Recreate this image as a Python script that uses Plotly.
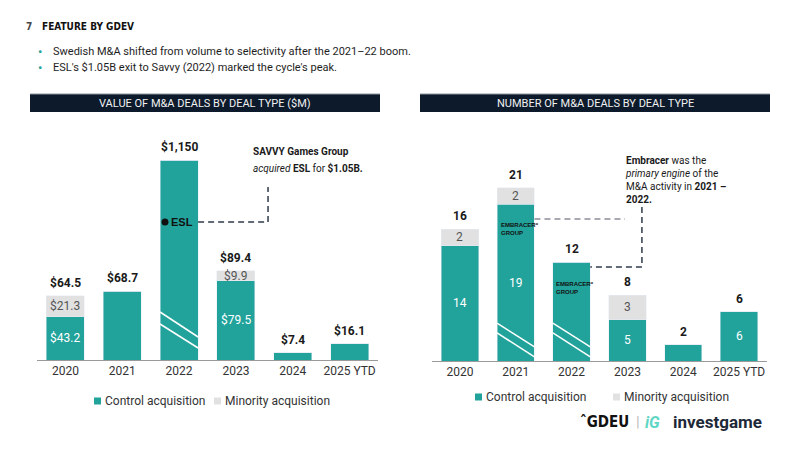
import plotly.graph_objects as go

# ---------------- data ----------------
years = ["2020", "2021", "2022", "2023", "2024", "2025 YTD"]

value_control = [43.2, 68.7, 1150.0, 79.5, 7.4, 16.1]
value_minority = [21.3, 0.0, 0.0, 9.9, 0.0, 0.0]
value_total = [64.5, 68.7, 1150.0, 89.4, 7.4, 16.1]
value_control_labels = ["$43.2", "", "", "$79.5", "", ""]
value_minority_labels = ["$21.3", "", "", "$9.9", "", ""]
value_total_labels = ["$64.5", "$68.7", "$1,150", "$89.4", "$7.4", "$16.1"]
VALUE_AXIS_BREAK = 200.0  # 2022 bar is drawn truncated (broken axis)

count_control = [14, 19, 12, 5, 2, 6]
count_minority = [2, 2, 0, 3, 0, 0]
count_total = [16, 21, 12, 8, 2, 6]
count_control_labels = ["14", "19", "", "5", "", "6"]
count_minority_labels = ["2", "2", "", "3", "", ""]

series_names = ["Control acquisition", "Minority acquisition"]
bullets = [
    "Swedish M&A shifted from volume to selectivity after the 2021\u201322 boom.",
    "ESL's $1.05B exit to Savvy (2022) marked the cycle's peak.",
]

# ---------------- style ----------------
TEAL = "#21a39b"
GREY = "#e1e1e1"
NAVY = "#0c1a2b"
TXT = "#333333"
FONT = "Roboto"
W, H = 800, 450
BARGAP = 0.33
HALF = (1 - BARGAP) / 2


def px(x):
    return x / W


def py(y):
    return 1 - y / H


def note(x, y, text, size=12, color="#1a1a1a", family=FONT, xanchor="left", **kw):
    d = dict(x=px(x), y=py(y), xref="paper", yref="paper", text=text, showarrow=False,
             xanchor=xanchor, yanchor=kw.pop("yanchor", "middle"),
             font=dict(family=family, size=size, color=color))
    d.update(kw)
    return d


value_control_disp = [min(v, VALUE_AXIS_BREAK) for v in value_control]
value_total_disp = [min(t, VALUE_AXIS_BREAK) for t in value_total]
idx = list(range(len(years)))

fig = go.Figure()
fig.add_bar(x=idx, y=value_control_disp, marker_color=TEAL, name=series_names[0],
            xaxis="x", yaxis="y", showlegend=False, hoverinfo="skip")
fig.add_bar(x=idx, y=value_minority, marker_color=GREY, name=series_names[1],
            xaxis="x", yaxis="y", showlegend=False, hoverinfo="skip")
fig.add_bar(x=idx, y=count_control, marker_color=TEAL, name=series_names[0],
            xaxis="x2", yaxis="y2", showlegend=False, hoverinfo="skip")
fig.add_bar(x=idx, y=count_minority, marker_color=GREY, name=series_names[1],
            xaxis="x2", yaxis="y2", showlegend=False, hoverinfo="skip")

ann = []
shapes = []

# labels on bars
for xa, ya, ctrl, mino, tot, clab, mlab, tlab in [
    ("x", "y", value_control_disp, value_minority, value_total_disp,
     value_control_labels, value_minority_labels, value_total_labels),
    ("x2", "y2", count_control, count_minority, count_total,
     count_control_labels, count_minority_labels, [str(t) for t in count_total]),
]:
    for i in idx:
        ann.append(dict(x=i, y=tot[i], xref=xa, yref=ya, text=f"<b>{tlab[i]}</b>",
                        showarrow=False, xanchor="center", yanchor="bottom", yshift=4,
                        font=dict(family=FONT, size=12, color="#1a1a1a")))
        if clab[i]:
            ann.append(dict(x=i, y=ctrl[i] / 2, xref=xa, yref=ya, text=clab[i],
                            showarrow=False, xanchor="center", yanchor="middle",
                            font=dict(family=FONT, size=12, color="white")))
        if mlab[i]:
            ann.append(dict(x=i, y=ctrl[i] + mino[i] / 2, xref=xa, yref=ya, text=mlab[i],
                            showarrow=False, xanchor="center", yanchor="middle",
                            font=dict(family=FONT, size=12, color="#555555")))


# axis-break marks
def break_marks(xa, ya, i, ys):
    for (a, b) in ys:
        shapes.append(dict(type="line", xref=xa, yref=ya, x0=i - HALF, x1=i + HALF,
                           y0=a, y1=b, line=dict(color="white", width=1.5)))


break_marks("x", "y", 2, [(48, 23), (36, 12)])
break_marks("x2", "y2", 1, [(4.6, 1.7), (3.4, 0.5)])
break_marks("x2", "y2", 2, [(4.6, 1.7), (3.4, 0.5)])

# ESL callout
DASH = dict(color="#2f3b4b", width=1.5, dash="6px,4px")
shapes.append(dict(type="line", xref="x", yref="y", x0=2 + HALF, x1=3.565, y0=138, y1=138, line=DASH))
shapes.append(dict(type="line", xref="x", yref="y", x0=3.565, x1=3.565, y0=138, y1=173, line=DASH))
shapes.append(dict(type="circle", xref="paper", yref="paper", x0=px(161.5), x1=px(168.5),
                   y0=py(225.5), y1=py(218.5), fillcolor="#111111", line=dict(width=0)))
ann.append(note(169, 222, "<b>ESL</b>", size=11, color="#111111", family="Liberation Sans"))
ann.append(note(251, 151, "<b>SAVVY Games Group</b>", size=10))
ann.append(note(251, 168, "<i>acquired</i> <b>ESL</b> for <b>$1.05B.</b>", size=10))

# Embracer callout
shapes.append(dict(type="line", xref="x2", yref="y2", x0=1 + HALF, x1=2.957, y0=17.2, y1=17.2,
                   line=dict(color="#8a8f98", width=1.5, dash="6px,4px")))
shapes.append(dict(type="line", xref="x2", yref="y2", x0=3.26, x1=3.26, y0=18.67, y1=11.4, line=DASH))
shapes.append(dict(type="line", xref="x2", yref="y2", x0=3.26, x1=2 + HALF, y0=11.4, y1=11.4, line=DASH))
for (lx, ly) in [(499, 229), (554, 288)]:
    ann.append(note(lx, ly, "<b>EMBRACER*</b><br><b>GROUP</b>", size=6, color="#111111",
                    family="Liberation Sans", align="left"))
ann.append(note(623, 153,
                "<b>Embracer</b> was the<br><i>primary engine</i> of the<br>M&A activity in <b>2021 \u2013</b><br><b>2022.</b>",
                size=10, align="left", yanchor="top"))

# title bars
for (x0, x1, t) in [(30, 380, "VALUE OF M&A DEALS BY DEAL TYPE ($M)"),
                    (420, 770, "NUMBER OF M&A DEALS BY DEAL TYPE")]:
    shapes.append(dict(type="rect", xref="paper", yref="paper", x0=px(x0), x1=px(x1),
                       y0=py(112), y1=py(94), fillcolor=NAVY, line=dict(width=0)))
    shapes.append(dict(type="line", xref="paper", yref="paper", x0=px(x0), x1=px(x1),
                       y0=py(94), y1=py(94), line=dict(color="#8c939c", width=1)))
    ann.append(note((x0 + x1) / 2, 103, t, size=11, color="#f0f0f0", xanchor="center"))

# manual legends
for (yc, items) in [(401, [(94, TEAL, series_names[0]), (214, GREY, series_names[1])]),
                    (397, [(475, TEAL, series_names[0]), (613, GREY, series_names[1])])]:
    for (sx, col, name) in items:
        shapes.append(dict(type="rect", xref="paper", yref="paper", x0=px(sx), x1=px(sx + 7),
                           y0=py(yc + 3.5), y1=py(yc - 3.5), fillcolor=col, line=dict(width=0)))
        ann.append(note(sx + 9, yc, name, size=12, color=TXT))

# header
ann.append(note(24, 26, "<b>7</b>", size=10, color="#444444", family="DejaVu Sans Condensed"))
ann.append(note(40, 26, "<b>FEATURE BY GDEV</b>", size=10, color="#111111", family="DejaVu Sans Condensed"))
for k, b in enumerate(bullets):
    yy = 52 + 16 * k
    ann.append(note(40, yy, "\u2022", size=13, color=TEAL, xanchor="center"))
    ann.append(note(51, yy, b, size=11, color="#1e1e1e"))

# footer logos
ann.append(note(578, 422, "<b>\u02c6GDEU</b>", size=15, color="#111111", family="DejaVu Sans Condensed"))
ann.append(note(638, 422, "|", size=15, color="#bbbbbb", xanchor="center"))
ann.append(note(643, 422, "<b><i>iG</i></b>", size=16, color="#5fd6c4"))
ann.append(note(671, 422, "<b>investgame</b>", size=17, color="#1d2838"))

axis_common = dict(type="linear", range=[-0.5, len(years) - 0.5], tickmode="array",
                   tickvals=idx, ticktext=years, showline=True, linecolor="#9a9a9a",
                   linewidth=1, ticks="", showgrid=False, zeroline=False, automargin=False,
                   tickfont=dict(family=FONT, size=12, color=TXT), fixedrange=True)
fig.update_layout(
    width=W, height=H, margin=dict(l=0, r=0, t=0, b=0, autoexpand=False),
    paper_bgcolor="white", plot_bgcolor="white",
    barmode="stack", bargap=BARGAP, showlegend=False,
    xaxis=dict(domain=[px(37), px(378)], anchor="y", **axis_common),
    yaxis=dict(domain=[py(360), py(130)], range=[0, 230], visible=False, fixedrange=True),
    xaxis2=dict(domain=[px(432), px(767)], anchor="y2", **axis_common),
    yaxis2=dict(domain=[py(361), py(130)], range=[0, 231 / 8.25], visible=False, fixedrange=True),
    annotations=ann, shapes=shapes,
)

fig.write_html("out.html")
